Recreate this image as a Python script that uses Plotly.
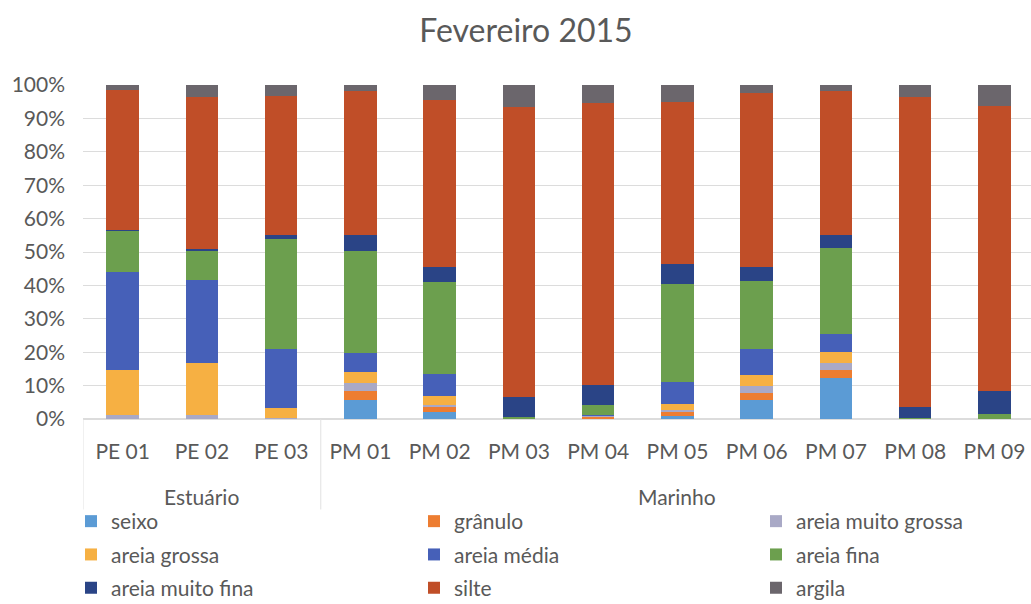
import plotly.graph_objects as go

groups = ["Estuário", "Marinho"]
group_members = [3, 9]
stations = ["PE 01", "PE 02", "PE 03", "PM 01", "PM 02", "PM 03",
            "PM 04", "PM 05", "PM 06", "PM 07", "PM 08", "PM 09"]

seixo = [0, 0, 0, 5.7, 2.2, 0, 0, 1.0, 5.7, 12.2, 0, 0]
granulo = [0, 0, 0, 2.7, 1.3, 0, 0.6, 1.0, 2.2, 2.5, 0, 0]
areia_muito_grossa = [1.3, 1.3, 0.3, 2.3, 0.8, 0, 0.4, 0.6, 2.0, 2.0, 0, 0]
areia_grossa = [13.5, 15.4, 2.9, 3.5, 2.6, 0, 0, 1.8, 3.3, 3.5, 0, 0]
areia_media = [29.2, 24.8, 17.8, 5.7, 6.5, 0, 0.3, 6.8, 7.7, 5.2, 0, 0]
areia_fina = [12.3, 9.0, 33.0, 30.3, 27.6, 0.5, 3.0, 29.3, 20.5, 25.9, 0.4, 1.5]
areia_muito_fina = [0.4, 0.5, 1.2, 4.8, 4.5, 6.0, 6.0, 6.0, 4.1, 3.7, 3.3, 7.0]
silte = [41.8, 45.5, 41.5, 43.3, 50.0, 86.8, 84.4, 48.5, 52.0, 43.3, 92.6, 85.3]
argila = [1.5, 3.5, 3.3, 1.7, 4.5, 6.7, 5.3, 5.0, 2.5, 1.7, 3.7, 6.2]

series_names = ["seixo", "grânulo", "areia muito grossa", "areia grossa",
                "areia média", "areia fina", "areia muito fina", "silte", "argila"]
series_values = [seixo, granulo, areia_muito_grossa, areia_grossa, areia_media,
                 areia_fina, areia_muito_fina, silte, argila]
colors = ["#5B9BD5", "#ED7D31", "#A9A9C6", "#F6B043", "#4660B8",
          "#6C9F4E", "#2A4486", "#C04E28", "#6B666C"]

y_ticks = [0, 10, 20, 30, 40, 50, 60, 70, 80, 90, 100]
y_tick_labels = [f"{v}%" for v in y_ticks]

font_family = "Lato, Open Sans, sans-serif"
grey = "#595959"

W, H = 1031, 604
L, R, T, B = 82.5, 0, 84.5, 184.7
plot_h = H - T - B
x_bottom = H - B
cat_px = 79.3
x_max = -0.5 + (W - L - R) / cat_px

legend_ids = ["legend", "legend2", "legend3"]

fig = go.Figure()
for i, (name, vals, col) in enumerate(zip(series_names, series_values, colors)):
    fig.add_trace(go.Bar(
        x=list(range(len(stations))), y=vals, name=name,
        marker=dict(color=col, line=dict(width=0)),
        legend=legend_ids[i % 3], legendgroup=name,
    ))

legend_common = dict(orientation="v", xref="container", yref="container",
                      xanchor="left", yanchor="top", traceorder="grouped",
                      font=dict(size=21, color=grey, family=font_family),
                      itemwidth=30, tracegroupgap=3, bgcolor="rgba(0,0,0,0)")
legend_x = [71 / W, 414 / W, 756 / W]
legend_top = 1 - 501 / H

fig.update_layout(
    barmode="stack",
    bargap=0.59,
    width=W, height=H,
    paper_bgcolor="white", plot_bgcolor="white",
    margin=dict(l=L, r=R, t=T, b=B, autoexpand=False),
    font=dict(family=font_family, color=grey, size=21),
    title=dict(text="Fevereiro 2015", x=526 / W, xanchor="center", y=1 - 31 / H,
               yanchor="middle", font=dict(size=32, color=grey, family=font_family)),
    showlegend=True,
    legend=dict(x=legend_x[0], y=legend_top, **legend_common),
    legend2=dict(x=legend_x[1], y=legend_top, **legend_common),
    legend3=dict(x=legend_x[2], y=legend_top, **legend_common),
)

# group labels under the category labels, with dividers
start = 0
for g, n in zip(groups, group_members):
    fig.add_annotation(x=start + (n - 1) / 2, y=-(497 - x_bottom) / plot_h,
                       xref="x", yref="paper",
                       text=g, showarrow=False, yanchor="middle",
                       font=dict(size=21, color=grey, family=font_family))
    fig.add_shape(type="line", xref="x", yref="paper",
                  x0=start - 0.5, x1=start - 0.5, y0=0,
                  y1=-(510 - x_bottom) / plot_h,
                  line=dict(color="#E2E2E2", width=1))
    start += n

fig.update_yaxes(range=[0, 100], tickvals=y_ticks, ticktext=y_tick_labels,
                 showgrid=True, gridcolor="#DCDCDC", gridwidth=1,
                 zeroline=True, zerolinecolor="#DCDCDC",
                 tickfont=dict(size=21, color=grey), ticks="", showline=False,
                 ticklabelstandoff=17)
fig.update_xaxes(tickvals=list(range(len(stations))), ticktext=stations,
                 range=[-0.5, x_max],
                 showline=True, linecolor="#DCDCDC", showgrid=False,
                 tickfont=dict(size=21, color=grey), ticks="",
                 ticklabelstandoff=14)

fig.write_html(
    "out.html",
    config={"displayModeBar": False},
    post_script="document.body.style.margin='0';document.body.style.overflow='hidden';",
)
